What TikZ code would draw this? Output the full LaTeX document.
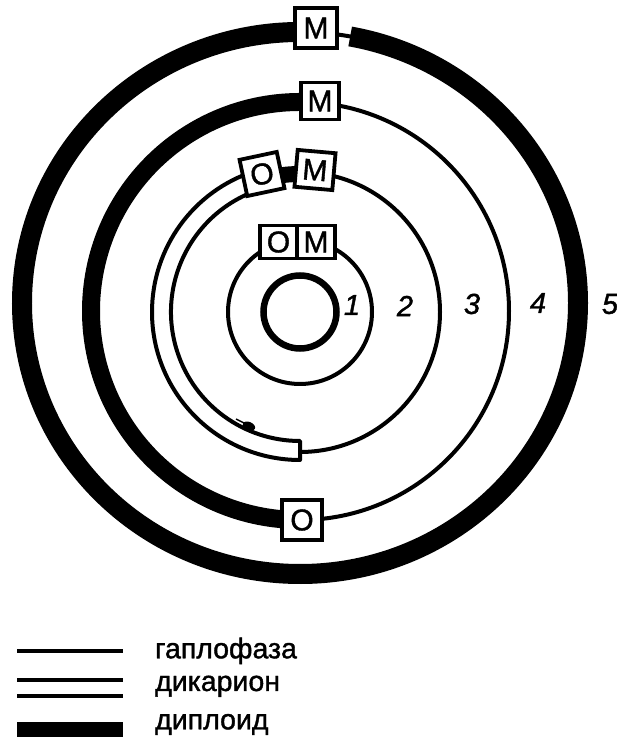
\documentclass[tikz,border=0pt]{standalone}
\usepackage{fontspec}
\setmainfont{Liberation Sans}
\newfontfamily\heavy[FakeBold=1.3]{Liberation Sans}
\begin{document}
\begin{tikzpicture}[x=1pt,y=1pt,
  hap/.style={line width=4pt},
  dip/.style={line width=#1},
  box/.style={draw, line width=3.8pt, fill=white, inner sep=0pt,
    minimum width=38pt, minimum height=37pt,
    font=\heavy\fontsize{30}{30}\selectfont},
  lab/.style={inner sep=0pt, font=\heavy\fontsize{29}{29}\selectfont\itshape},
  leg/.style={inner sep=0pt, anchor=base west, font=\heavy\fontsize{28.5}{28.5}\selectfont}]
\fill[white] (0,0) rectangle (617,737);
\useasboundingbox (0,0) rectangle (617,737);
\coordinate (c) at (300,425);
\coordinate (c4) at (300,426);
\coordinate (c5) at (300,434);
% ring 1
\draw[line width=6.5pt] (c) circle[radius=36.5];
% ring 2
\draw[hap] (c) circle[radius=72];
% ring 3: haploid part
\draw[hap] ([shift={(270:140)}]c) arc[start angle=270, end angle=444, radius=140];
% ring 3: dikaryon tube
\draw[hap, line join=round] ([shift={(108:129)}]c) arc[start angle=108, end angle=270, radius=129]
  -- ([shift={(270:148)}]c) arc[start angle=270, end angle=108, radius=148];
% ring 3: diploid piece
\draw[dip=16pt] ([shift={(84:138)}]c) arc[start angle=84, end angle=108, radius=138];
% blob
\fill[rotate around={-24:(249,311)}] (249,311) ellipse[x radius=6.5, y radius=4];
\draw[line width=1.5pt] (236,318) -- (244,314);
% ring 4
\draw[hap] ([shift={(-90:209)}]c4) arc[start angle=-90, end angle=86, radius=209];
\draw[dip=18pt] ([shift={(86:209)}]c4) arc[start angle=86, end angle=270, radius=209];
% ring 5
\draw[dip=20pt] ([shift={(88:278 and 271)}]c5) arc[start angle=88, end angle=439.6, x radius=278, y radius=271];
\draw[hap] ([shift={(79:278 and 271)}]c5) arc[start angle=79, end angle=88, x radius=278, y radius=271];
% boxes
\node[box, minimum width=42pt, minimum height=40pt] (m5) at (316,709) {M};
\node[box] (m4) at (320,636) {M};
\node[box, minimum width=40pt, minimum height=40pt] (o4) at (302,217) {O};
\node[box, rotate=-5] (m3) at (315,567) {M};
\node[box, rotate=12] (o3) at (262,563) {O};
\node[box, minimum width=37.5pt, minimum height=33pt] (o2) at (278.5,495) {O};
\node[box, minimum width=37.5pt, minimum height=33pt] (m2) at (316,495) {M};
% labels
\node[lab] (l1) at (352,432) {1};
\node[lab] (l2) at (405,431) {2};
\node[lab] (l3) at (472,433) {3};
\node[lab] (l4) at (538,434) {4};
\node[lab] (l5) at (610,433) {5};
% legend
\coordinate (h1) at (17,86); \coordinate (h2) at (123,86);
\draw[hap] (h1) -- (h2);
\coordinate (d1) at (17,57); \coordinate (d2) at (123,57);
\coordinate (d3) at (17,41); \coordinate (d4) at (123,41);
\draw[hap] (d1) -- (d2);
\draw[hap] (d3) -- (d4);
\fill (17,0) rectangle (123,15);
\node[leg] (t1) at (155,78.7) {гаплофаза};
\node[leg] (t2) at (155,46) {дикарион};
\node[leg] (t3) at (155,7.7) {диплоид};
\end{tikzpicture}
\end{document}
